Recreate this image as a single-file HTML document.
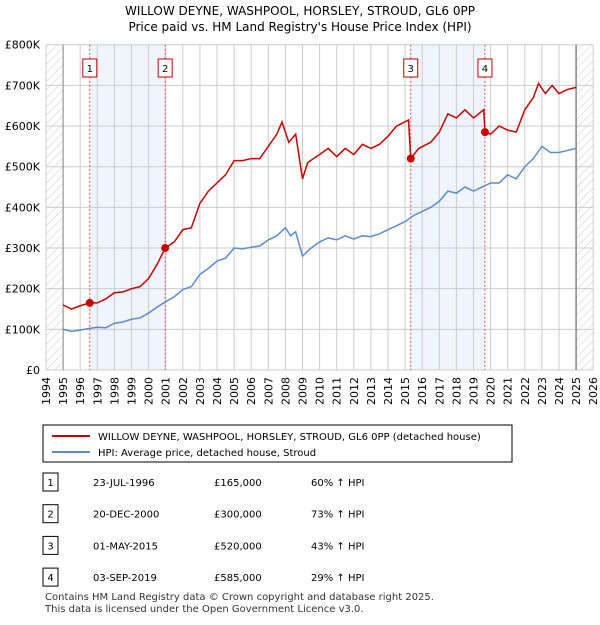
<!DOCTYPE html>
<html><head><meta charset="utf-8"><style>
body{margin:0;background:#fff;font-family:"Liberation Sans","DejaVu Sans",sans-serif;}
svg text{font-family:"DejaVu Sans","Liberation Sans",sans-serif;}
</style></head><body>
<svg id="c" width="600" height="620" xmlns="http://www.w3.org/2000/svg">
<defs><pattern id="h" width="6" height="6" patternUnits="userSpaceOnUse" patternTransform="rotate(45)"><line x1="0" y1="0" x2="0" y2="6" stroke="#ccc" stroke-width="1"/></pattern></defs>
<text x="300" y="15" text-anchor="middle" font-size="12">WILLOW DEYNE, WASHPOOL, HORSLEY, STROUD, GL6 0PP</text>
<text x="300" y="31" text-anchor="middle" font-size="12">Price paid vs. HM Land Registry's House Price Index (HPI)</text>
<g id="plot"></g>
<rect x="43" y="425" width="469" height="37" fill="#fff" stroke="#000" stroke-width="1"/>
<line x1="52" y1="436" x2="90" y2="436" stroke="#cc0000" stroke-width="2"/>
<text x="98" y="440" font-size="10">WILLOW DEYNE, WASHPOOL, HORSLEY, STROUD, GL6 0PP (detached house)</text>
<line x1="52" y1="452" x2="90" y2="452" stroke="#5b8bd0" stroke-width="2"/>
<text x="98" y="456" font-size="10">HPI: Average price, detached house, Stroud</text>
<g id="tbl" font-size="10"></g>
<text x="45" y="600" font-size="10" fill="#333">Contains HM Land Registry data © Crown copyright and database right 2025.</text>
<text x="45" y="612" font-size="10" fill="#333">This data is licensed under the Open Government Licence v3.0.</text>
</svg>
<script>
const hpiT=[1995,1995.5,1996,1996.5,1997,1997.5,1998,1998.5,1999,1999.5,2000,2000.5,2001,2001.5,2002,2002.5,2003,2003.5,2004,2004.5,2005,2005.5,2006,2006.5,2007,2007.5,2008,2008.3,2008.6,2009,2009.5,2010,2010.5,2011,2011.5,2012,2012.5,2013,2013.5,2014,2014.5,2015,2015.5,2016,2016.5,2017,2017.5,2018,2018.5,2019,2019.5,2020,2020.5,2021,2021.5,2022,2022.5,2023,2023.5,2024,2024.5,2025];
const hpiV=[100,95,98,102,105,104,115,118,125,128,140,155,168,180,198,205,235,250,268,275,300,298,302,305,320,330,350,330,340,280,300,315,325,320,330,322,330,328,335,345,355,365,380,390,400,415,440,435,450,440,450,460,460,480,470,500,520,550,535,535,540,545];
const redT=[1995,1995.5,1996,1996.56,1997,1997.5,1998,1998.5,1999,1999.5,2000,2000.5,2000.97,2001.5,2002,2002.5,2003,2003.5,2004,2004.5,2005,2005.5,2006,2006.5,2007,2007.5,2007.8,2008.2,2008.6,2009,2009.3,2010,2010.5,2011,2011.5,2012,2012.5,2013,2013.5,2014,2014.5,2015.2,2015.33,2015.8,2016.5,2017,2017.5,2018,2018.5,2019,2019.6,2019.67,2020,2020.5,2021,2021.5,2022,2022.5,2022.8,2023.2,2023.6,2024,2024.5,2025];
const redV=[160,150,158,165,165,175,190,192,200,205,225,260,300,315,345,350,410,440,460,480,515,515,520,520,550,580,610,560,580,470,510,530,545,525,545,530,555,545,555,575,600,615,520,545,560,585,630,620,640,620,640,585,580,600,590,585,640,670,705,680,700,680,690,695];
const saleT=[1996.56,2000.97,2015.33,2019.67];
const saleV=[165,300,520,585];
const saleLbl=["1","2","3","4"];
const saleDate=["23-JUL-1996","20-DEC-2000","01-MAY-2015","03-SEP-2019"];
const salePrice=["£165,000","£300,000","£520,000","£585,000"];
const saleHpi=["60% ↑ HPI","73% ↑ HPI","43% ↑ HPI","29% ↑ HPI"];
const yTicks=[0,100,200,300,400,500,600,700,800];
const yLbl=["£0","£100K","£200K","£300K","£400K","£500K","£600K","£700K","£800K"];
const NS="http://www.w3.org/2000/svg";
const X=t=>46+(t-1994)*17.1, Y=v=>370-v*0.4066;
const g=document.getElementById('plot');
function mk(tag,a,p){const e=document.createElementNS(NS,tag);for(const k in a)e.setAttribute(k,a[k]);(p||g).appendChild(e);return e;}
let e;
e=mk('rect',{x:X(1994),y:Y(800),width:X(1995)-X(1994),height:Y(0)-Y(800),fill:'url(#h)'});

e=mk('rect',{x:X(2025),y:Y(800),width:X(2026)-X(2025),height:Y(0)-Y(800),fill:'url(#h)'});

e=mk('rect',{x:X(saleT[0]),y:Y(800),width:X(saleT[1])-X(saleT[0]),height:Y(0)-Y(800),fill:'#f0f4fc'});

e=mk('rect',{x:X(saleT[2]),y:Y(800),width:X(saleT[3])-X(saleT[2]),height:Y(0)-Y(800),fill:'#f0f4fc'});

for(let yr=1994;yr<=2026;yr++){
 e=mk('line',{x1:X(yr),x2:X(yr),y1:Y(800),y2:Y(0),stroke:'#ccc','stroke-width':1});
 
 e=mk('text',{transform:`translate(${X(yr)+4},${Y(0)+7}) rotate(-90)`,'text-anchor':'end','font-size':11});
 e.textContent=yr;
}
yTicks.forEach((v,i)=>{
 e=mk('line',{x1:X(1994),x2:X(2026),y1:Y(v),y2:Y(v),stroke:'#ccc','stroke-width':1});
 
 e=mk('text',{x:40,y:Y(v)+4,'text-anchor':'end','font-size':11});
 e.textContent=yLbl[i];
});
e=mk('line',{x1:X(1995),x2:X(1995),y1:Y(800),y2:Y(0),stroke:'#888','stroke-width':1});

e=mk('line',{x1:X(2025),x2:X(2025),y1:Y(800),y2:Y(0),stroke:'#888','stroke-width':1.5});

saleT.forEach((t,i)=>{
 e=mk('line',{x1:X(t),x2:X(t),y1:Y(800),y2:Y(0),stroke:'#e05050','stroke-width':1,'stroke-dasharray':'2,2'});
 
 e=mk('rect',{x:X(t)-7,y:59,width:14,height:18,fill:'#fff',stroke:'#cc0000'});
 
 e=mk('text',{x:X(t),y:72,'text-anchor':'middle','font-size':10});
 e.textContent=saleLbl[i];
});
e=mk('polyline',{points:hpiT.map((t,i)=>X(t)+','+Y(hpiV[i])).join(' '),fill:'none',stroke:'#5b8bd0','stroke-width':1.5});

e=mk('polyline',{points:redT.map((t,i)=>X(t)+','+Y(redV[i])).join(' '),fill:'none',stroke:'#cc0000','stroke-width':1.5});

saleT.forEach((t,i)=>{
 e=mk('circle',{cx:X(t),cy:Y(saleV[i]),r:4,fill:'#cc0000'});
 
});
const tb=document.getElementById('tbl');
saleT.forEach((t,i)=>{
 const cy=482+i*31.7;
 e=mk('rect',{x:43,y:cy-9,width:15,height:18,fill:'#fff',stroke:'#000'},tb);
 
 e=mk('text',{x:50.5,y:cy+4,'text-anchor':'middle'},tb);e.textContent=saleLbl[i];
 
 e=mk('text',{x:93,y:cy+4},tb);e.textContent=saleDate[i];
 
 e=mk('text',{x:214,y:cy+4},tb);e.textContent=salePrice[i];
 
 e=mk('text',{x:311,y:cy+4},tb);e.textContent=saleHpi[i];
 
});
</script>
</body></html>
